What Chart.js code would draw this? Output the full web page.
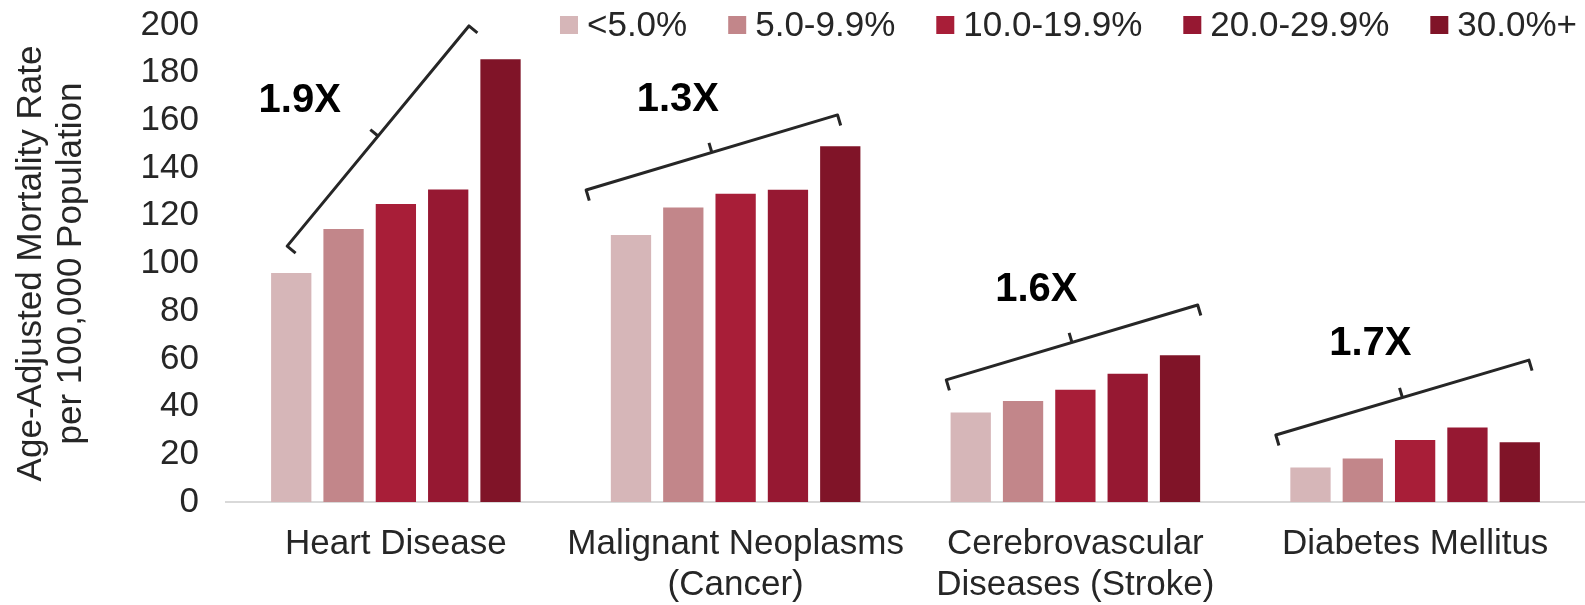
<!DOCTYPE html>
<html>
<head>
<meta charset="utf-8">
<script src="https://cdn.jsdelivr.net/npm/chart.js@4.4.1/dist/chart.umd.min.js"></script>
<style>
  html, body { margin: 0; padding: 0; background: #fff; }
  #wrap { width: 1585px; height: 605px; position: relative; }
</style>
</head>
<body>
<div id="wrap"><canvas id="chart"></canvas></div>
<script>
// categories (multi-line labels as arrays)
const categories = [
    ['Heart Disease'],
    ['Malignant Neoplasms', '(Cancer)'],
    ['Cerebrovascular', 'Diseases (Stroke)'],
    ['Diabetes Mellitus']
];

const seriesNames = ['<5.0%', '5.0-9.9%', '10.0-19.9%', '20.0-29.9%', '30.0%+'];

// age-adjusted mortality rate per 100,000, one array per group
const under5 = [96, 112, 37.5, 14.5];
const from5to10 = [114.5, 123.5, 42.4, 18.2];
const from10to20 = [125, 129.2, 47.1, 26];
const from20to30 = [131, 130.9, 53.8, 31.2];
const over30 = [185.6, 149.2, 61.5, 25.1];

// bracket annotations, in axis units (x = category index)
const bracketLabels = ['1.9X', '1.3X', '1.6X', '1.7X'];
const bracketFromX = [-0.32, 0.56, 1.62, 2.59];
const bracketToX = [0.215, 1.30, 2.36, 3.335];
const bracketFromY = [107.3, 130.8, 51.2, 28.1];
const bracketToY = [199.6, 162.3, 82.6, 59.5];
const labelX = [-0.283, 0.83, 1.885, 2.868];
const labelY = [168.1, 168.6, 88.9, 66.2];

const colours = ['#d6b6b8', '#c2868a', '#a81e38', '#961832', '#801428'];
const fontFamily = '"Liberation Sans", Arial, sans-serif';
const textColour = '#262626';

const legendPlugin = {
    id: 'topLegend',
    afterDraw(chart) {
        const ctx = chart.ctx;
        const datasets = chart.data.datasets;
        ctx.save();
        ctx.font = `35px ${fontFamily}`;
        ctx.textBaseline = 'middle';
        ctx.textAlign = 'left';
        const widths = datasets.map(d => ctx.measureText(d.label).width);
        const total = widths.reduce((a, b) => a + b, 0) + datasets.length * 27 + (datasets.length - 1) * 41;
        let x = 1577 - total;
        const yMid = 25;
        datasets.forEach((d, i) => {
            ctx.fillStyle = d.backgroundColor;
            ctx.fillRect(x, yMid - 9, 18, 18);
            ctx.fillStyle = textColour;
            ctx.fillText(d.label, x + 27, yMid + 1);
            x += 27 + widths[i] + 41;
        });
        ctx.restore();
    }
};

const bracketPlugin = {
    id: 'brackets',
    afterDatasetsDraw(chart) {
        const ctx = chart.ctx;
        const xs = chart.scales.x;
        const ys = chart.scales.y;
        ctx.save();
        ctx.strokeStyle = '#262626';
        ctx.lineWidth = 3;
        ctx.lineJoin = 'round';
        bracketLabels.forEach((label, i) => {
            const x0 = xs.getPixelForValue(bracketFromX[i]);
            const y0 = ys.getPixelForValue(bracketFromY[i]);
            const x1 = xs.getPixelForValue(bracketToX[i]);
            const y1 = ys.getPixelForValue(bracketToY[i]);
            const len = Math.hypot(x1 - x0, y1 - y0);
            const ux = (x1 - x0) / len;
            const uy = (y1 - y0) / len;
            // normal pointing towards the bars (down-right)
            const nx = -uy;
            const ny = ux;
            const hook = 11;
            ctx.beginPath();
            ctx.moveTo(x0 + nx * hook, y0 + ny * hook);
            ctx.lineTo(x0, y0);
            ctx.lineTo(x1, y1);
            ctx.lineTo(x1 + nx * hook, y1 + ny * hook);
            ctx.stroke();
            const mx = (x0 + x1) / 2;
            const my = (y0 + y1) / 2;
            ctx.beginPath();
            ctx.moveTo(mx, my);
            ctx.lineTo(mx - nx * 10, my - ny * 10);
            ctx.stroke();

            ctx.fillStyle = '#000';
            ctx.font = `bold 40px ${fontFamily}`;
            ctx.textAlign = 'center';
            ctx.textBaseline = 'middle';
            ctx.fillText(label, xs.getPixelForValue(labelX[i]), ys.getPixelForValue(labelY[i]));
        });
        ctx.restore();
    }
};

const seriesData = [under5, from5to10, from10to20, from20to30, over30];

const ctx = document.getElementById('chart').getContext('2d');
const myChart = new Chart(ctx, {
    type: 'bar',
    data: {
        labels: categories,
        datasets: seriesData.map((values, i) => ({
            label: seriesNames[i],
            data: values,
            backgroundColor: colours[i],
            borderWidth: 0,
            barPercentage: 0.77,
            categoryPercentage: 0.77
        }))
    },
    options: {
        responsive: true,
        maintainAspectRatio: false,
        animation: false,
        layout: { padding: 0 },
        plugins: {
            legend: { display: false },
            tooltip: { enabled: false }
        },
        scales: {
            x: {
                grid: { display: false, drawTicks: false },
                border: { display: true, color: '#d9d9d9', width: 2 },
                ticks: {
                    font: { size: 35, family: fontFamily, lineHeight: 1.17 },
                    color: textColour,
                    padding: 22,
                    maxRotation: 0,
                    autoSkip: false
                },
                afterFit(scale) { scale.height = 103; }
            },
            y: {
                min: 0,
                max: 200,
                ticks: {
                    stepSize: 20,
                    font: { size: 35, family: fontFamily },
                    color: textColour,
                    padding: 27
                },
                grid: { display: false, drawTicks: false },
                border: { display: false },
                title: {
                    display: true,
                    text: ['Age-Adjusted Mortality Rate', 'per 100,000 Population'],
                    font: { size: 35, family: fontFamily, lineHeight: 1.15 },
                    color: textColour,
                    padding: { top: 11, bottom: 0 }
                },
                afterFit(scale) {
                    scale.width = 226;
                    // tick padding would otherwise push the plot top down
                    scale.paddingTop = 25;
                    scale.paddingBottom = 0;
                }
            }
        }
    },
    plugins: [bracketPlugin, legendPlugin]
});
</script>
</body>
</html>
